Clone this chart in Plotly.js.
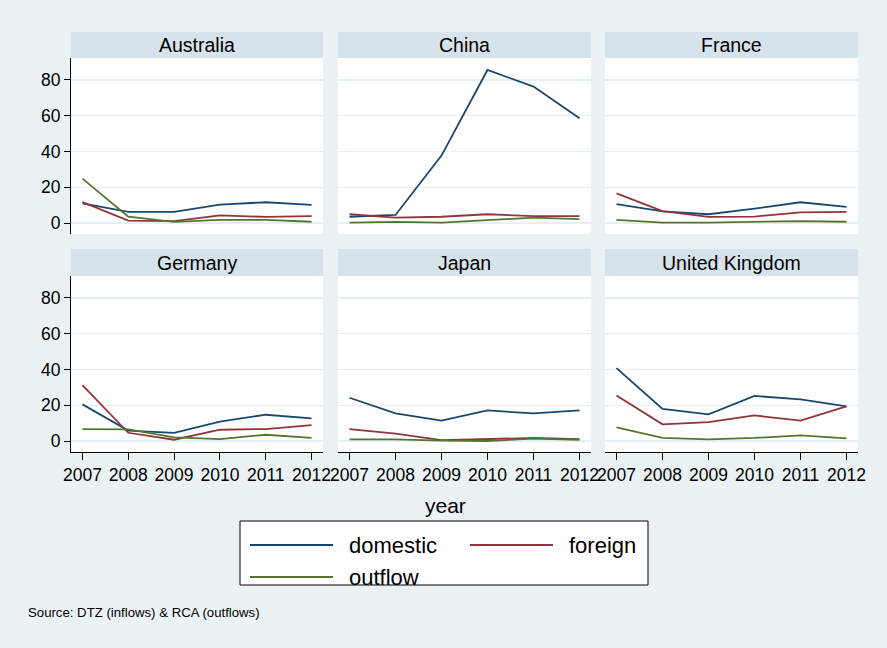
<!DOCTYPE html>
<html>
<head>
<meta charset="utf-8">
<script src="https://cdn.plot.ly/plotly-3.0.1.min.js"></script>
<style>html,body{margin:0;padding:0;background:#eaf2f3;}#chart{width:887px;height:648px;}</style>
</head>
<body>
<div id="chart"></div>
<script>
// ---- data ----
const years = [2007, 2008, 2009, 2010, 2011, 2012];
const countries = ["Australia", "China", "France", "Germany", "Japan", "United Kingdom"];
const domestic = [
  [11.0, 6.2, 6.2, 10.3, 11.6, 10.1],
  [3.5, 4.5, 37.7, 85.6, 76.3, 58.6],
  [10.6, 6.5, 4.9, 8.0, 11.6, 9.0],
  [20.5, 5.8, 4.5, 10.8, 14.7, 12.7],
  [24.2, 15.4, 11.4, 17.1, 15.4, 17.1],
  [40.8, 17.9, 14.9, 25.2, 23.3, 19.4]
];
const foreign = [
  [11.7, 1.3, 1.0, 4.3, 3.4, 3.9],
  [4.9, 3.0, 3.5, 4.9, 3.9, 3.9],
  [16.6, 6.7, 3.4, 3.6, 6.0, 6.2],
  [31.3, 4.6, 0.7, 6.3, 6.7, 8.9],
  [6.7, 4.1, 0.5, 0.9, 1.7, 1.1],
  [25.5, 9.3, 10.6, 14.3, 11.4, 19.4]
];
const outflow = [
  [24.8, 3.5, 0.6, 1.7, 1.7, 0.7],
  [0.2, 0.6, 0.2, 1.5, 3.0, 2.2],
  [1.7, 0.2, 0.2, 0.7, 1.1, 0.7],
  [6.7, 6.5, 2.0, 1.1, 3.5, 1.8],
  [0.9, 0.9, 0.2, 0.0, 1.3, 0.7],
  [7.6, 1.8, 0.9, 1.7, 3.1, 1.5]
];
const seriesNames = ["domestic", "foreign", "outflow"];
const yTicks = [0, 20, 40, 60, 80];
const xTitle = "year";
const sourceNote = "Source: DTZ (inflows) & RCA (outflows)";

// ---- styling / layout ----
const W = 887, H = 648;
const FONT = "Liberation Sans, Arial, Helvetica, sans-serif";
const colors = ["#1a476f", "#90353b", "#55752f"];
const seriesData = [domestic, foreign, outflow];
const colPx = [[71, 323], [338, 591], [605, 858]];
const rowPx = [[58, 234], [276, 452]];      // plot area top/bottom (px from top)
const stripPx = [[32, 58], [249, 276]];     // strip top/bottom
const px = v => v / W, py = v => 1 - v / H;

const traces = [];
const layout = {
  width: W, height: H,
  margin: {l: 0, r: 0, t: 0, b: 0},
  paper_bgcolor: "#eaf2f3",
  plot_bgcolor: "#ffffff",
  showlegend: false,
  font: {family: FONT, color: "#000"},
  shapes: [],
  annotations: []
};

countries.forEach((c, i) => {
  const row = Math.floor(i / 3), col = i % 3;
  const n = i + 1;
  const xa = n === 1 ? "x" : "x" + n, ya = n === 1 ? "y" : "y" + n;
  seriesData.forEach((s, k) => {
    traces.push({
      type: "scatter", mode: "lines",
      x: years, y: s[i], name: seriesNames[k],
      xaxis: xa, yaxis: ya,
      line: {color: colors[k], width: 1.8},
      hoverinfo: "skip"
    });
  });
  const xKey = n === 1 ? "xaxis" : "xaxis" + n;
  const yKey = n === 1 ? "yaxis" : "yaxis" + n;
  const bottom = row === 1, left = col === 0;
  layout[xKey] = {
    domain: [px(colPx[col][0]), px(colPx[col][1])],
    anchor: ya,
    range: [2006.75, 2012.25],
    tickvals: years,
    ticktext: years.map(String),
    showticklabels: bottom,
    ticks: bottom ? "outside" : "",
    ticklen: 7, tickwidth: 1, tickcolor: "#000",
    showline: bottom, linecolor: "#000", linewidth: 1,
    showgrid: false, zeroline: false,
    tickfont: {family: FONT, size: 17.5, color: "#000"},
    fixedrange: true
  };
  layout[yKey] = {
    domain: [py(rowPx[row][1]), py(rowPx[row][0])],
    anchor: xa,
    range: [-6.15, 92.3],
    tickvals: yTicks,
    showticklabels: left,
    ticks: left ? "outside" : "",
    ticklen: 6, tickwidth: 1, tickcolor: "#000",
    showline: left, linecolor: "#000", linewidth: 1,
    showgrid: true, gridcolor: "#e6eff1", gridwidth: 1.2,
    zeroline: false,
    tickfont: {family: FONT, size: 17.5, color: "#000"},
    fixedrange: true
  };
  // strip
  layout.shapes.push({
    type: "rect", xref: "paper", yref: "paper",
    x0: px(colPx[col][0]), x1: px(colPx[col][1]),
    y0: py(stripPx[row][1]), y1: py(stripPx[row][0]),
    fillcolor: "#d7e3ea", line: {width: 0}, layer: "below"
  });
  layout.annotations.push({
    xref: "paper", yref: "paper",
    x: px((colPx[col][0] + colPx[col][1]) / 2),
    y: py((stripPx[row][0] + stripPx[row][1]) / 2),
    text: c, showarrow: false, xanchor: "center", yanchor: "middle",
    font: {family: FONT, size: 19.5, color: "#000"}
  });
});

// x title
layout.annotations.push({
  xref: "paper", yref: "paper", x: px(445), y: py(505),
  text: xTitle, showarrow: false, xanchor: "center", yanchor: "middle",
  font: {family: FONT, size: 21, color: "#000"}
});

// legend box (custom, Stata-like)
layout.shapes.push({
  type: "rect", xref: "paper", yref: "paper",
  x0: px(240), x1: px(648), y0: py(585), y1: py(521),
  fillcolor: "#ffffff", line: {color: "#000", width: 1}
});
const legPos = [[250, 545], [470, 545], [250, 577]];
seriesNames.forEach((nm, k) => {
  const [lx, ly] = legPos[k];
  layout.shapes.push({
    type: "line", xref: "paper", yref: "paper",
    x0: px(lx), x1: px(lx + 83), y0: py(ly), y1: py(ly),
    line: {color: colors[k], width: 2}
  });
  layout.annotations.push({
    xref: "paper", yref: "paper", x: px(lx + 97), y: py(ly),
    text: nm, showarrow: false, xanchor: "left", yanchor: "middle",
    font: {family: FONT, size: 22, color: "#000"}
  });
});

// source note
layout.annotations.push({
  xref: "paper", yref: "paper", x: px(26), y: py(612),
  text: sourceNote, showarrow: false, xanchor: "left", yanchor: "middle",
  font: {family: FONT, size: 13.2, color: "#000"}
});

Plotly.newPlot("chart", traces, layout, {staticPlot: true, displayModeBar: false});
</script>
</body>
</html>
